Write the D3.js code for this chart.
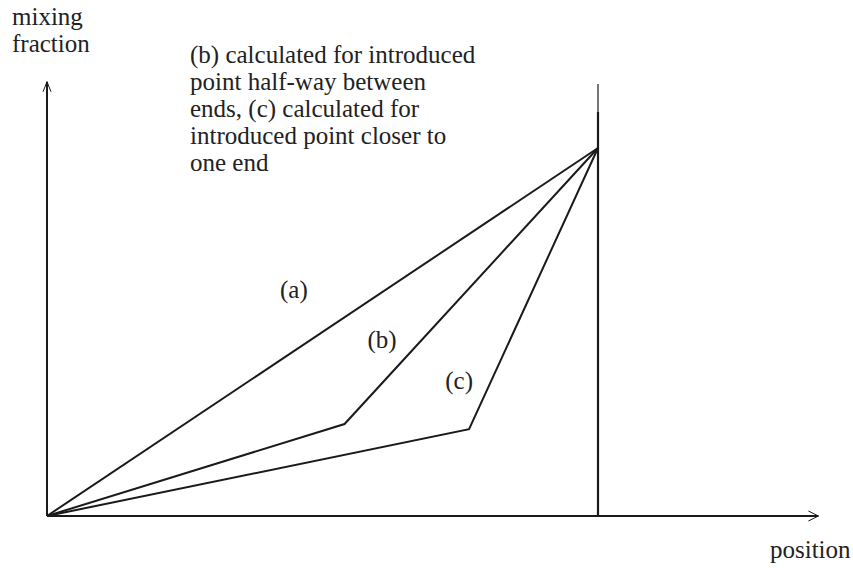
<!DOCTYPE html>
<html>
<head>
<meta charset="utf-8">
<script src="https://cdn.jsdelivr.net/npm/d3@7"></script>
<style>
  html, body { margin: 0; padding: 0; background: #fff; }
  text { font-family: "Liberation Serif", "Times New Roman", serif; fill: #222; }
</style>
</head>
<body>
<svg id="chart" width="853" height="568"></svg>
<script>
// Profiles of mixing fraction against position (normalised: 0 = start, 1 = far end)
const curveNames = ["(a)", "(b)", "(c)"];
const curveA = [[0, 0], [1, 1]];
const curveB = [[0, 0], [0.54, 0.25], [1, 1]];
const curveC = [[0, 0], [0.766, 0.236], [1, 1]];
const curves = [curveA, curveB, curveC];
// label anchor positions in data units
const labelPos = [[0.448, 0.592], [0.608, 0.457], [0.748, 0.345]];
const noteLines = [
  "(b) calculated for introduced",
  "point half-way between",
  "ends, (c) calculated for",
  "introduced point closer to",
  "one end"
];
const xAxisMax = 1.4, yAxisMax = 1.18;

const svg = d3.select("#chart");
const x = d3.scaleLinear().domain([0, 1]).range([47, 598]);
const y = d3.scaleLinear().domain([0, 1]).range([516, 148]);
const ink = "#1a1a1a";
const serif = "'Liberation Serif', 'Times New Roman', serif";
const fs = 25;

// axes
svg.append("line").attr("x1", x(0)).attr("y1", y(0)).attr("x2", x(xAxisMax)).attr("y2", y(0))
  .attr("stroke", ink).attr("stroke-width", 2);
svg.append("line").attr("x1", x(0)).attr("y1", y(0)).attr("x2", x(0)).attr("y2", y(yAxisMax))
  .attr("stroke", ink).attr("stroke-width", 2);

// open arrow heads
const xe = x(xAxisMax), ye = y(yAxisMax);
svg.append("path").attr("d", `M${xe - 10},${y(0) - 5} L${xe},${y(0)} L${xe - 10},${y(0) + 5}`)
  .attr("fill", "none").attr("stroke", ink).attr("stroke-width", 1);
svg.append("path").attr("d", `M${x(0) - 4},${ye + 10} L${x(0)},${ye} L${x(0) + 4},${ye + 10}`)
  .attr("fill", "none").attr("stroke", ink).attr("stroke-width", 1);

// boundary at the far end
svg.append("line").attr("x1", x(1)).attr("y1", y(0)).attr("x2", x(1)).attr("y2", 112)
  .attr("stroke", ink).attr("stroke-width", 2.2);
svg.append("line").attr("x1", x(1)).attr("y1", 112).attr("x2", x(1)).attr("y2", 84)
  .attr("stroke", ink).attr("stroke-width", 1.2);

// profile lines
const line = d3.line().x(d => x(d[0])).y(d => y(d[1]));
svg.selectAll("path.curve").data(curves).join("path")
  .attr("class", "curve")
  .attr("d", line)
  .attr("fill", "none").attr("stroke", ink).attr("stroke-width", 2)
  .attr("stroke-linejoin", "miter");

// curve labels
svg.selectAll("text.lbl").data(curveNames).join("text")
  .attr("class", "lbl")
  .attr("x", (d, i) => x(labelPos[i][0]))
  .attr("y", (d, i) => y(labelPos[i][1]))
  .attr("text-anchor", "middle")
  .attr("font-family", serif)
  .attr("font-size", fs)
  .text(d => d);

// axis titles
svg.append("text").attr("x", 12).attr("y", 25).attr("font-family", serif).attr("font-size", fs).text("mixing");
svg.append("text").attr("x", 12).attr("y", 52).attr("font-family", serif).attr("font-size", fs).text("fraction");
svg.append("text").attr("x", 770).attr("y", 558).attr("font-family", serif).attr("font-size", fs).text("position");

// note
svg.selectAll("text.note").data(noteLines).join("text")
  .attr("class", "note")
  .attr("x", 190)
  .attr("y", (d, i) => 63 + i * 27)
  .attr("font-family", serif)
  .attr("font-size", fs)
  .text(d => d);
</script>
</body>
</html>
